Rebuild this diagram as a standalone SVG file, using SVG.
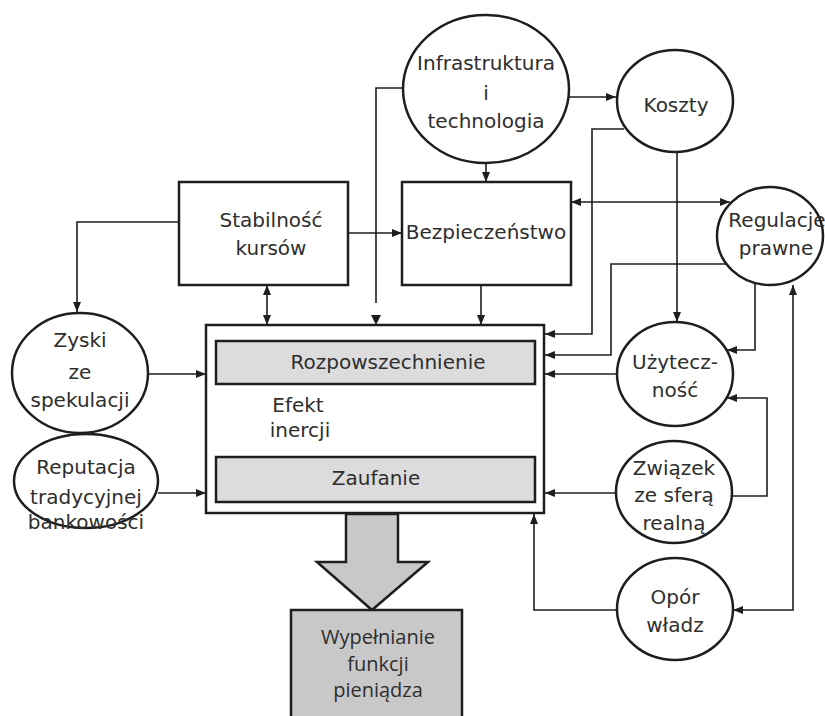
<svg xmlns="http://www.w3.org/2000/svg" width="825" height="716" viewBox="0 0 825 716">
<style>
text{font-family:"DejaVu Sans","Liberation Sans",sans-serif;font-size:20px;fill:#2e2e2e;text-anchor:middle}
.n{fill:#fff;stroke:#1e1e1e;stroke-width:2.5}
.c{fill:none;stroke:#1e1e1e;stroke-width:1.6}
.g{fill:#dcdcdd;stroke:#1e1e1e;stroke-width:2.5}
.w{font-family:"Open Sans","Liberation Sans",sans-serif}
</style>
<defs>
<marker id="a" viewBox="0 0 10 8" refX="10" refY="4" markerWidth="10" markerHeight="8" markerUnits="userSpaceOnUse" orient="auto-start-reverse"><path d="M0,0L10,4L0,8z" fill="#1e1e1e"/></marker>
</defs>
<g id="connectors">
<path class="c" d="M569,97H616" marker-end="url(#a)"/>
<path class="c" d="M402,88H376V303"/>
<polygon points="371,315 381,315 376,325" fill="#1e1e1e"/>
<path class="c" d="M486,152V182" marker-end="url(#a)"/>
<path class="c" d="M348,233H402" marker-end="url(#a)"/>
<path class="c" d="M267,285V325" marker-start="url(#a)" marker-end="url(#a)"/>
<path class="c" d="M481,285V325" marker-end="url(#a)"/>
<path class="c" d="M179,222H77V312" marker-end="url(#a)"/>
<path class="c" d="M148,374H206" marker-end="url(#a)"/>
<path class="c" d="M158,493H206" marker-end="url(#a)"/>
<path class="c" d="M343,384V457" marker-end="url(#a)"/>
<path class="c" d="M410,457V384" marker-end="url(#a)"/>
<path class="c" d="M571,202H730" marker-start="url(#a)" marker-end="url(#a)"/>
<path class="c" d="M624,129H592V334H545" marker-end="url(#a)"/>
<path class="c" d="M728,264H611V355H545" marker-end="url(#a)"/>
<path class="c" d="M617,374H545" marker-end="url(#a)"/>
<path class="c" d="M677,152V322" marker-end="url(#a)"/>
<path class="c" d="M755,283V350H727" marker-end="url(#a)"/>
<path class="c" d="M732,496H767V398H727" marker-end="url(#a)"/>
<path class="c" d="M616,493H545" marker-end="url(#a)"/>
<path class="c" d="M617,610H534V514" marker-end="url(#a)"/>
<path class="c" d="M793,285V610H733" marker-start="url(#a)" marker-end="url(#a)"/>
</g>
<g id="infrastruktura">
<ellipse cx="486" cy="89" rx="83" ry="74" class="n" stroke-width="3.2"/>
<text x="486" y="70">Infrastruktura</text>
<text x="486" y="100">i</text>
<text x="486" y="128">technologia</text>
</g>
<g id="koszty">
<ellipse cx="675" cy="101" rx="58" ry="51" class="n"/>
<text x="676" y="112">Koszty</text>
</g>
<g id="stabilnosc">
<rect x="179" y="182" width="169" height="103" class="n"/>
<text x="271" y="227">Stabilność</text>
<text x="271" y="255">kursów</text>
</g>
<g id="bezpieczenstwo">
<rect x="402" y="182" width="169" height="103" class="n"/>
<text x="486" y="239">Bezpieczeństwo</text>
</g>
<g id="regulacje">
<ellipse cx="770" cy="236" rx="53" ry="49" class="n"/>
<text x="777" y="227">Regulacje</text>
<text x="776" y="255">prawne</text>
</g>
<g id="zyski">
<ellipse cx="80" cy="373" rx="68" ry="60" class="n"/>
<text x="80" y="347">Zyski</text>
<text x="80" y="379">ze</text>
<text x="80" y="407">spekulacji</text>
</g>
<g id="reputacja">
<ellipse cx="86" cy="481" rx="72" ry="47" class="n"/>
<text x="86" y="474">Reputacja</text>
<text x="86" y="504">tradycyjnej</text>
<text x="86" y="529">bankowości</text>
</g>
<g id="main">
<rect x="206" y="325" width="338" height="188" class="n"/>
</g>
<g id="rozpowszechnienie">
<rect x="216" y="341" width="319" height="43" class="g"/>
<text x="388" y="369">Rozpowszechnienie</text>
</g>
<g id="zaufanie">
<rect x="216" y="457" width="319" height="45" class="g"/>
<text x="376" y="485">Zaufanie</text>
</g>
<g id="efekt">
<text x="298" y="412">Efekt</text>
<text x="300" y="437">inercji</text>
</g>
<g id="uzytecznosc">
<ellipse cx="675" cy="374" rx="58" ry="52" class="n"/>
<text x="675" y="369">Użytecz-</text>
<text x="675" y="397">ność</text>
</g>
<g id="zwiazek">
<ellipse cx="674" cy="492" rx="58" ry="51" class="n"/>
<text x="674" y="475">Związek</text>
<text x="674" y="502">ze sferą</text>
<text x="674" y="530">realną</text>
</g>
<g id="opor">
<ellipse cx="675" cy="609" rx="58" ry="51" class="n"/>
<text x="675" y="604">Opór</text>
<text x="675" y="632">władz</text>
</g>
<g id="bigarrow">
<polygon points="346,514 398,514 398,562 428,562 372,610 317,562 346,562" fill="#c8c8c9" stroke="#1e1e1e" stroke-width="2.5"/>
</g>
<g id="wypelnianie">
<rect x="291" y="610" width="171" height="110" fill="#c8c8c9" stroke="#1e1e1e" stroke-width="2.5"/>
<text class="w" x="378" y="644">Wypełnianie</text>
<text class="w" x="378" y="671">funkcji</text>
<text class="w" x="378" y="697">pieniądza</text>
</g>
</svg>
